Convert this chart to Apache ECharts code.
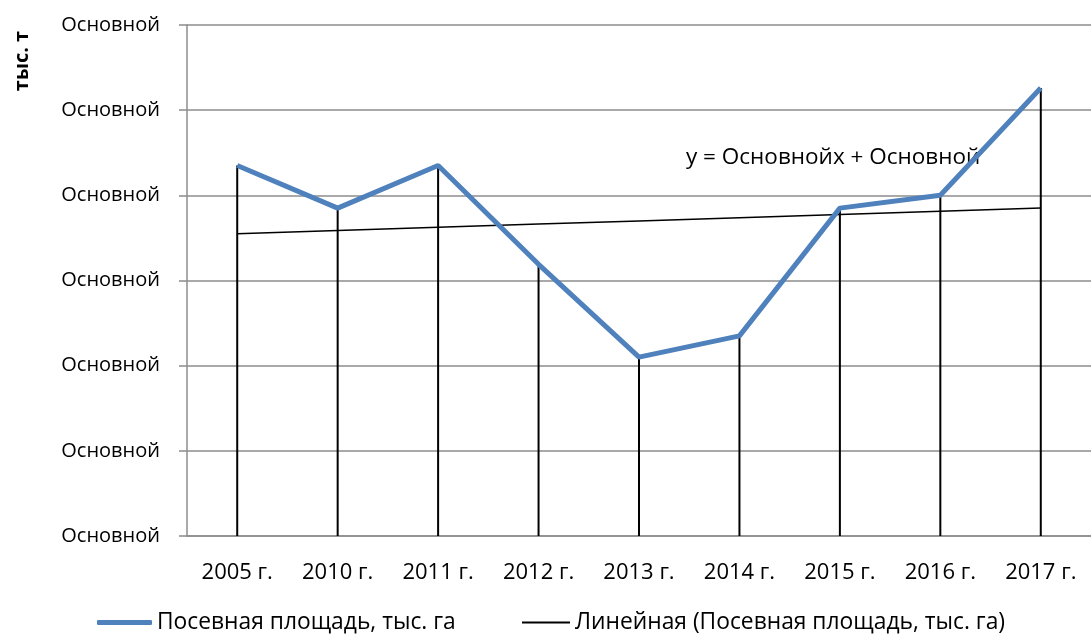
<!DOCTYPE html>
<html>
<head>
    <meta charset="utf-8"/>
    <title>Посевная площадь</title>
    <script src="https://cdn.jsdelivr.net/npm/echarts@6/dist/echarts.min.js"></script>
    <style>
        html, body { margin: 0; padding: 0; background: #fff; }
        #main { width: 1091px; height: 639px; }
    </style>
</head>
<body>
    <div id="main"></div>
    <script type="text/javascript">
        // данные
        var years = ['2005 г.', '2010 г.', '2011 г.', '2012 г.', '2013 г.', '2014 г.', '2015 г.', '2016 г.', '2017 г.'];
        var area = [4.35, 3.85, 4.35, 3.19, 2.10, 2.35, 3.85, 4.0, 5.26];
        var yLabel = 'Основной';
        var seriesName = 'Посевная площадь, тыс. га';
        var trendName = 'Линейная (Посевная площадь, тыс. га)';

        // линия тренда (МНК по тем же точкам)
        var n = area.length, sx = 0, sy = 0, sxy = 0, sxx = 0;
        for (var i = 0; i < n; i++) {
            sx += i; sy += area[i]; sxy += i * area[i]; sxx += i * i;
        }
        var k = (n * sxy - sx * sy) / (n * sxx - sx * sx);
        var b = (sy - k * sx) / n;
        var trend = area.map(function (v, i) { return +(k * i + b).toFixed(3); });

        var font = '"Open Sans", "Noto Sans", sans-serif';
        var myChart = echarts.init(document.getElementById('main'));

        var option = {
            animation: false,
            textStyle: { fontFamily: font },
            grid: { left: 187, right: -8, top: 25, bottom: 103 },
            xAxis: {
                type: 'category',
                data: years,
                boundaryGap: true,
                axisLine: { lineStyle: { color: '#8c8c8c', width: 1.5 } },
                axisTick: { show: false },
                axisLabel: { color: '#000', fontSize: 22, margin: 26, fontFamily: font }
            },
            yAxis: {
                type: 'value',
                min: 0,
                max: 6,
                interval: 1,
                axisLine: { show: true, lineStyle: { color: '#8c8c8c', width: 1.5 } },
                axisTick: { show: true, length: 8, lineStyle: { color: '#8c8c8c', width: 1.5 } },
                splitLine: { lineStyle: { color: '#8c8c8c', width: 1.5 } },
                axisLabel: {
                    color: '#000', fontSize: 20, margin: 27, fontFamily: font,
                    formatter: function () { return yLabel; }
                }
            },
            legend: [{
                left: 97,
                top: 611,
                padding: 0,
                itemWidth: 55,
                itemHeight: 5,
                itemGap: 5,
                icon: 'roundRect',
                textStyle: { color: '#000', fontSize: 22.8, lineHeight: 20, fontFamily: font },
                data: [seriesName]
            }, {
                left: 522,
                top: 611,
                padding: 0,
                itemWidth: 48,
                itemHeight: 2,
                icon: 'rect',
                textStyle: { color: '#000', fontSize: 22.8, lineHeight: 20, fontFamily: font },
                data: [trendName]
            }],
            graphic: [{
                type: 'text',
                x: 22,
                y: 61,
                rotation: Math.PI / 2,
                style: {
                    text: 'тыс. т',
                    font: 'bold 20px ' + font,
                    fill: '#000',
                    align: 'center',
                    verticalAlign: 'middle'
                }
            }, {
                type: 'text',
                x: 686,
                y: 158,
                style: {
                    text: 'y = Основнойх + Основной',
                    font: '22.5px ' + font,
                    fill: '#000',
                    align: 'left',
                    verticalAlign: 'middle'
                }
            }],
            series: [
                {
                    // вертикальные линии от точек к оси
                    name: 'drop',
                    type: 'bar',
                    data: area,
                    barWidth: 2,
                    itemStyle: { color: '#000' },
                    z: 1,
                    silent: true
                },
                {
                    name: trendName,
                    type: 'line',
                    data: trend,
                    symbol: 'none',
                    lineStyle: { color: '#000', width: 1.5 },
                    itemStyle: { color: '#000' },
                    z: 2
                },
                {
                    name: seriesName,
                    type: 'line',
                    data: area,
                    symbol: 'none',
                    lineStyle: { color: '#4f81bd', width: 5 },
                    itemStyle: { color: '#4f81bd' },
                    z: 3
                }
            ]
        };

        myChart.setOption(option);
    </script>
</body>
</html>
